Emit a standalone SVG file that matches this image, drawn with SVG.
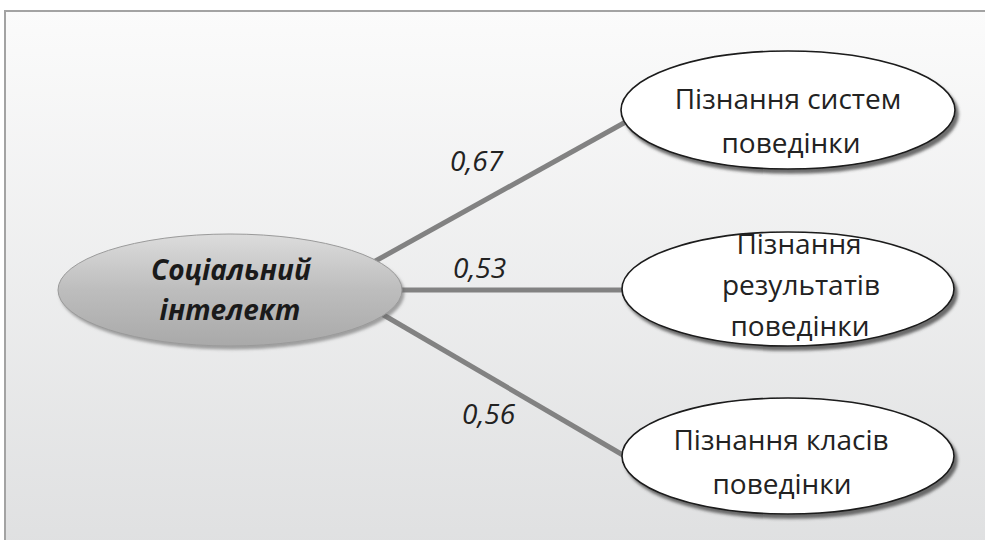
<svg xmlns="http://www.w3.org/2000/svg" width="985" height="540" viewBox="0 0 985 540">
  <defs>
    <linearGradient id="bg" x1="0" y1="0" x2="0" y2="1">
      <stop offset="0" stop-color="#fbfbfb"/>
      <stop offset="1" stop-color="#dedfe0"/>
    </linearGradient>
    <linearGradient id="central" x1="0" y1="0" x2="0" y2="1">
      <stop offset="0" stop-color="#dcdcdc"/>
      <stop offset="0.5" stop-color="#bdbdbd"/>
      <stop offset="1" stop-color="#a9a9a9"/>
    </linearGradient>
    <filter id="shadow" x="-10%" y="-20%" width="125%" height="150%">
      <feDropShadow dx="3" dy="4" stdDeviation="1.5" flood-color="#4a4a4a" flood-opacity="0.8"/>
    </filter>
    <filter id="shadowc" x="-10%" y="-20%" width="125%" height="150%">
      <feDropShadow dx="2" dy="3" stdDeviation="1.5" flood-color="#6a6a6a" flood-opacity="0.6"/>
    </filter>
  </defs>
  <style>
    .node { fill: #ffffff; stroke: #1a1a1a; stroke-width: 1.6; filter: url(#shadow); }
    .conn { stroke: #828282; stroke-width: 5; fill: none; }
    .lbl { font-family: "Open Sans", "Liberation Sans", sans-serif; font-size: 28px; fill: #222; text-anchor: middle; }
    .coef { font-family: "Open Sans", "Liberation Sans", sans-serif; font-size: 28px; font-style: italic; fill: #222; }
    .ctr { font-family: "Open Sans", "Liberation Sans", sans-serif; font-size: 28px; font-style: italic; font-weight: bold; fill: #1a1a1a; text-anchor: middle; }
  </style>
  <rect x="5" y="11" width="1000" height="560" fill="url(#bg)" stroke="#a3a3a3" stroke-width="2"/>

  <g id="connectors">
    <line class="conn" x1="370" y1="264" x2="640" y2="114"/>
    <line class="conn" x1="380" y1="290" x2="640" y2="290"/>
    <line class="conn" x1="375" y1="310" x2="640" y2="465"/>
    <text class="coef" x="450" y="171">0,67</text>
    <text class="coef" x="453" y="278">0,53</text>
    <text class="coef" x="462" y="424">0,56</text>
  </g>

  <g id="central-node">
    <ellipse cx="230" cy="290" rx="172" ry="56" fill="url(#central)" stroke="#9a9a9a" stroke-width="1" filter="url(#shadowc)"/>
    <text class="ctr" x="231" y="280">Соціальний</text>
    <text class="ctr" x="230" y="320">інтелект</text>
  </g>

  <g id="node-systems">
    <ellipse class="node" cx="788" cy="110" rx="167" ry="59"/>
    <text class="lbl" x="788" y="109">Пізнання систем</text>
    <text class="lbl" x="791" y="153">поведінки</text>
  </g>

  <g id="node-results">
    <ellipse class="node" cx="788" cy="289" rx="166" ry="57"/>
    <text class="lbl" x="799" y="254">Пізнання</text>
    <text class="lbl" x="801" y="295">результатів</text>
    <text class="lbl" x="800" y="336">поведінки</text>
  </g>

  <g id="node-classes">
    <ellipse class="node" cx="788" cy="456" rx="166" ry="58"/>
    <text class="lbl" x="781" y="450">Пізнання класів</text>
    <text class="lbl" x="782" y="494">поведінки</text>
  </g>
</svg>
